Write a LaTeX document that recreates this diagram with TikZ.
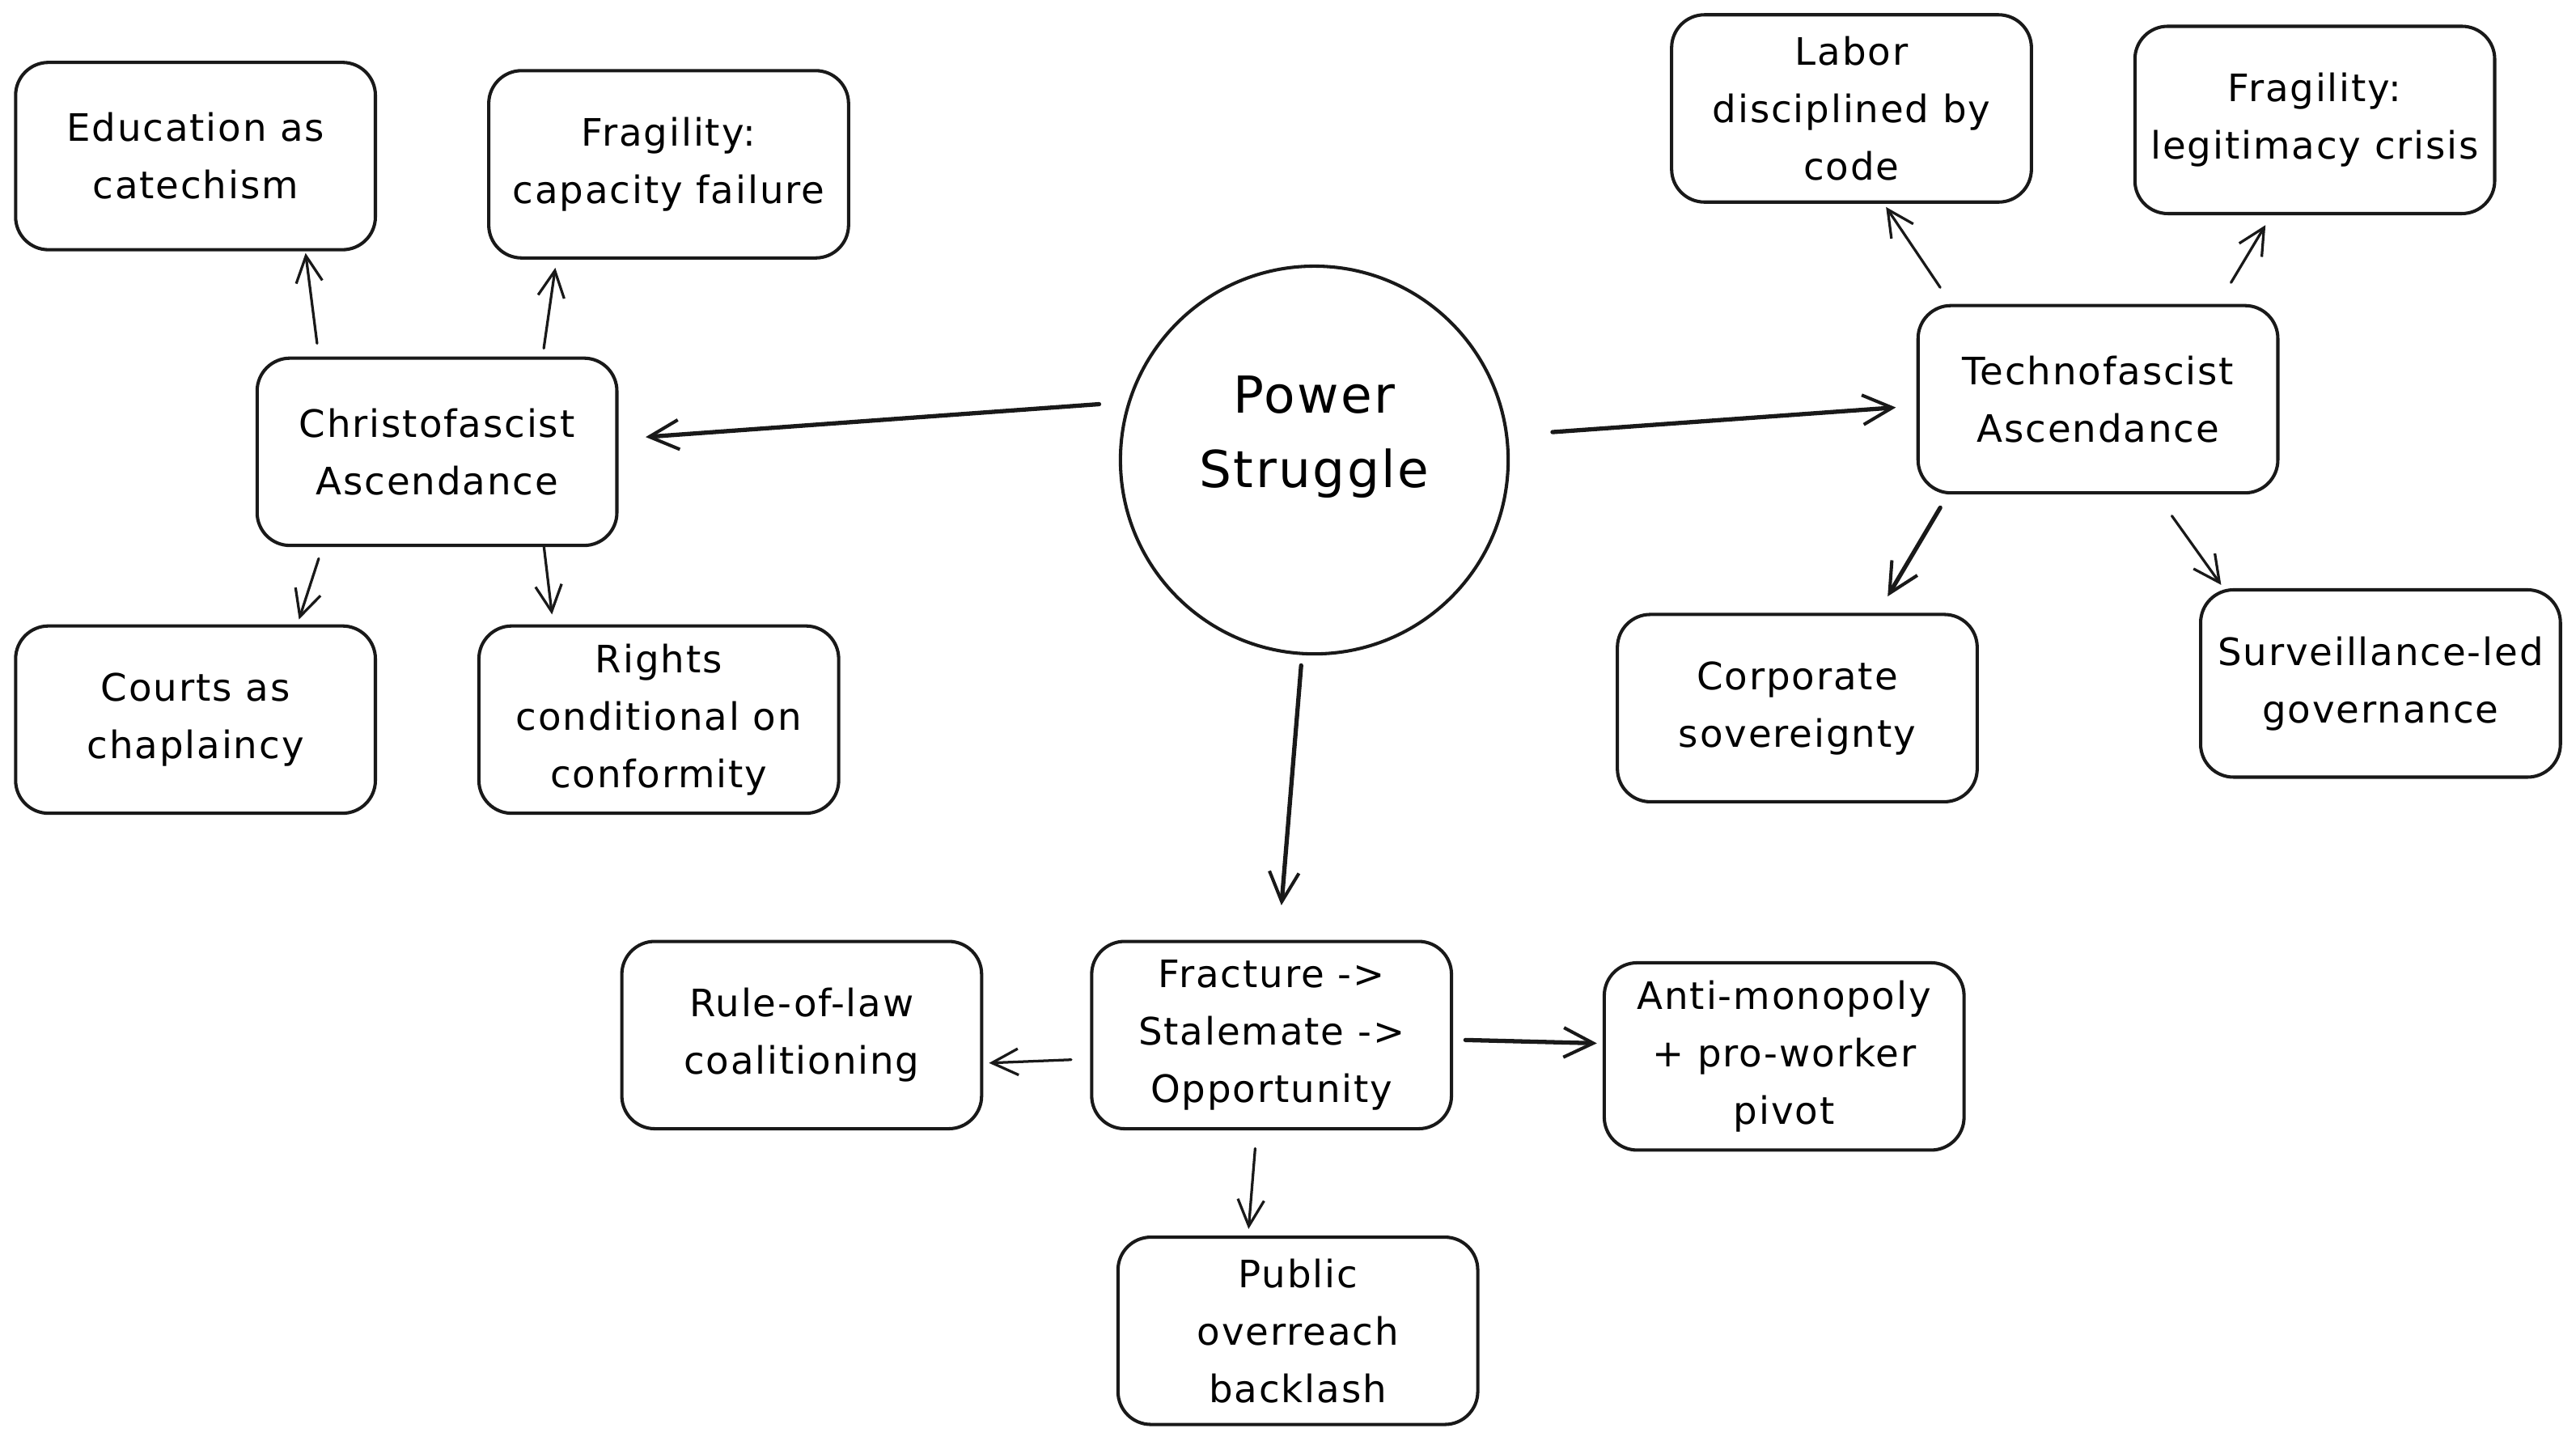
\documentclass[tikz,border=0pt]{standalone}
\usepackage{fontspec}
\setmainfont[LetterSpace=4]{DejaVu Sans}
\usetikzlibrary{arrows.meta,calc}
\begin{document}
\begin{tikzpicture}[x=1pt,y=-1pt,
  box/.style={draw=black!90, line width=2pt, rounded corners=20pt, minimum width=219pt, minimum height=114pt, align=center, font=\fontsize{23}{35}\selectfont, inner sep=1pt},
  hub/.style={draw=black!90, line width=2pt, circle, minimum size=236pt, align=center},
  arr/.style={draw=black!90, line width=1.6pt, line cap=round, -{Straight Barb[length=16pt,width=16pt,line width=1.6pt]}},
  tarr/.style={draw=black!90, line width=2.6pt, line cap=round, -{Straight Barb[length=18pt,width=18pt,line width=2pt]}}]
\useasboundingbox (0,0) rectangle (1568,877);
\node[hub] (pw) at (800,280) {};
\node[font=\fontsize{31}{45}\selectfont, align=center] (pwt) at (800,266) {Power\\Struggle};
\node[box] (edu) at (119,95) {Education as\\catechism};
\node[box] (fcap) at (407,100) {Fragility:\\capacity failure};
\node[box] (chr) at (266,275) {Christofascist\\Ascendance};
\node[box] (court) at (119,438) {Courts as\\chaplaincy};
\node[box] (rights) at (401,438) {Rights\\conditional on\\conformity};
\node[box] (labor) at (1127,66) {Labor\\disciplined by\\code};
\node[box] (fleg) at (1409,73) {Fragility:\\legitimacy crisis};
\node[box] (tech) at (1277,243) {Technofascist\\Ascendance};
\node[box] (corp) at (1094,431) {Corporate\\sovereignty};
\node[box] (surv) at (1449,416) {Surveillance-led\\governance};
\node[box] (frac) at (774,630) {Fracture ->\\Stalemate ->\\Opportunity};
\node[box] (rule) at (488,630) {Rule-of-law\\coalitioning};
\node[box] (anti) at (1086,643) {Anti-monopoly\\+ pro-worker\\pivot};
\node[box] (pub) at (790,810) {Public\\overreach\\backlash};
\draw[tarr] ($(pw)+(-131,-34)$) -- ($(chr)+(127,-9)$);
\draw[tarr] ($(pw)+(145,-17)$) -- ($(tech)+(-123,5)$);
\draw[tarr] ($(pw)+(-8,125)$) -- ($(frac)+(6,-79)$);
\draw[arr] ($(chr)+(-73,-66)$) -- ($(edu)+(67,59)$);
\draw[arr] ($(chr)+(65,-63)$) -- ($(fcap)+(-69,63)$);
\draw[arr] ($(chr)+(-72,65)$) -- ($(court)+(63,-61)$);
\draw[arr] ($(chr)+(65,57)$) -- ($(rights)+(-65,-64)$);
\draw[arr] ($(tech)+(-96,-68)$) -- ($(labor)+(21,60)$);
\draw[arr] ($(tech)+(81,-71)$) -- ($(fleg)+(-30,64)$);
\draw[tarr] ($(tech)+(-96,66)$) -- ($(corp)+(55,-68)$);
\draw[arr] ($(tech)+(45,71)$) -- ($(surv)+(-97,-60)$);
\draw[arr] ($(frac)+(-122,15)$) -- ($(rule)+(114,17)$);
\draw[tarr] ($(frac)+(118,3)$) -- ($(anti)+(-114,-8)$);
\draw[arr] ($(frac)+(-10,69)$) -- ($(pub)+(-30,-62)$);
\end{tikzpicture}
\end{document}
